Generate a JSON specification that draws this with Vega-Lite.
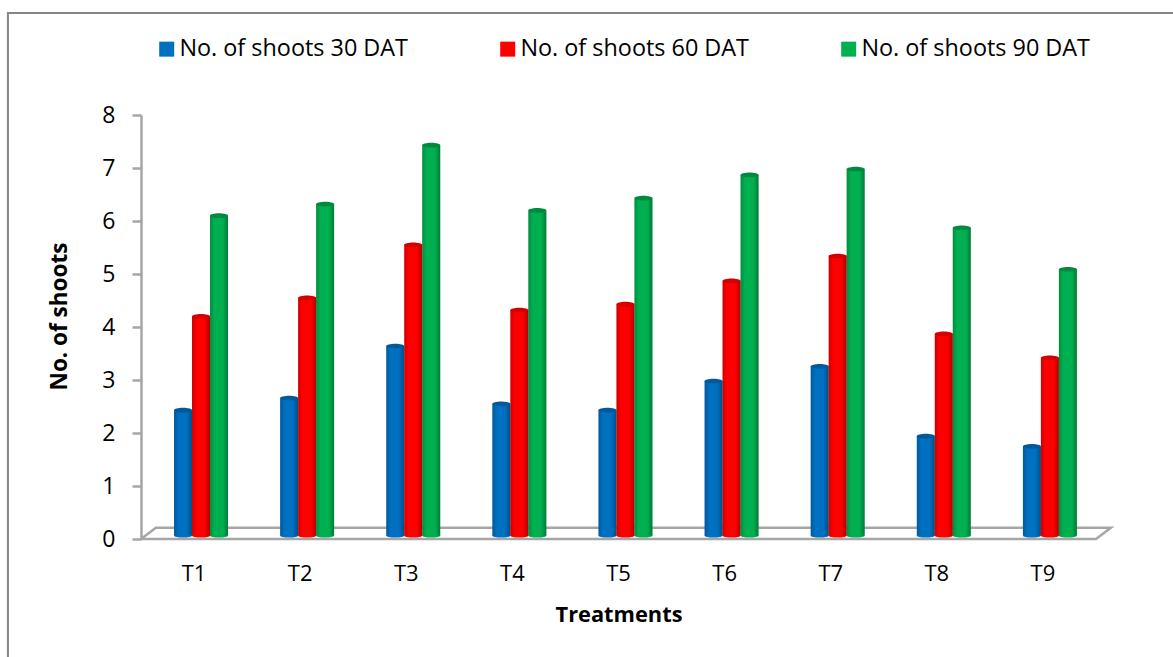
{"$schema":"https://vega.github.io/schema/vega-lite/v6.json","width":955,"height":424,"padding":{"left":141,"top":115,"right":77,"bottom":118},"autosize":"none","background":"white","config":{"view":{"stroke":null},"font":"Open Sans"},
"datasets":{"bars":[
{"t":"T1","s":"No. of shoots 30 DAT","v":2.43},{"t":"T1","s":"No. of shoots 60 DAT","v":4.2},{"t":"T1","s":"No. of shoots 90 DAT","v":6.1},
{"t":"T2","s":"No. of shoots 30 DAT","v":2.66},{"t":"T2","s":"No. of shoots 60 DAT","v":4.55},{"t":"T2","s":"No. of shoots 90 DAT","v":6.32},
{"t":"T3","s":"No. of shoots 30 DAT","v":3.64},{"t":"T3","s":"No. of shoots 60 DAT","v":5.55},{"t":"T3","s":"No. of shoots 90 DAT","v":7.43},
{"t":"T4","s":"No. of shoots 30 DAT","v":2.55},{"t":"T4","s":"No. of shoots 60 DAT","v":4.32},{"t":"T4","s":"No. of shoots 90 DAT","v":6.2},
{"t":"T5","s":"No. of shoots 30 DAT","v":2.43},{"t":"T5","s":"No. of shoots 60 DAT","v":4.43},{"t":"T5","s":"No. of shoots 90 DAT","v":6.43},
{"t":"T6","s":"No. of shoots 30 DAT","v":2.98},{"t":"T6","s":"No. of shoots 60 DAT","v":4.87},{"t":"T6","s":"No. of shoots 90 DAT","v":6.87},
{"t":"T7","s":"No. of shoots 30 DAT","v":3.26},{"t":"T7","s":"No. of shoots 60 DAT","v":5.34},{"t":"T7","s":"No. of shoots 90 DAT","v":6.98},
{"t":"T8","s":"No. of shoots 30 DAT","v":1.94},{"t":"T8","s":"No. of shoots 60 DAT","v":3.87},{"t":"T8","s":"No. of shoots 90 DAT","v":5.87},
{"t":"T9","s":"No. of shoots 30 DAT","v":1.75},{"t":"T9","s":"No. of shoots 60 DAT","v":3.42},{"t":"T9","s":"No. of shoots 90 DAT","v":5.09}],
"floor":[{"o":1,"x":0,"y":0},{"o":2,"x":0.14,"y":0.21},{"o":3,"x":9.14,"y":0.21},{"o":4,"x":9,"y":0},{"o":5,"x":0,"y":0}],
"border":[{"o":1,"x":-1.254,"y":-2.5},{"o":2,"x":-1.254,"y":9.925},{"o":3,"x":10,"y":9.925}]},
"layer":[
{"data":{"name":"border"},"mark":{"type":"line","color":"#868686","strokeWidth":2,"clip":false},
"encoding":{"x":{"field":"x","type":"quantitative","scale":{"domain":[0,9]},"axis":null},"y":{"field":"y","type":"quantitative","scale":{"domain":[0,8]},"axis":{"values":[0,1,2,3,4,5,6,7,8],"title":"No. of shoots","titleFont":"Open Sans","titleFontSize":22.5,"titleFontWeight":"bold","titleColor":"#000","titleX":-70,"titleY":201,"labelFontSize":23,"labelColor":"#000","labelPadding":17,"tickSize":9,"tickWidth":2.5,"tickColor":"#a6a6a6","domainColor":"#a6a6a6","domainWidth":2.5,"grid":false}},"order":{"field":"o"}}},
{"data":{"name":"floor"},"mark":{"type":"line","color":"#a6a6a6","strokeWidth":2.5,"clip":false},
"encoding":{"x":{"field":"x","type":"quantitative","scale":{"domain":[0,9]},"axis":null},"y":{"field":"y","type":"quantitative"},"order":{"field":"o"}}},
{"data":{"name":"bars"},"layer":[
{"mark":{"type":"bar","size":18},"encoding":{"y":{"field":"v","type":"quantitative"},"y2":{"datum":0.06},"color":{"field":"s","type":"nominal","scale":{"range":["#0070c0","#ff0000","#00b050"]},"legend":{"title":null,"orient":"none","legendX":14,"legendY":-78,"direction":"horizontal","columns":3,"symbolType":"square","symbolSize":225,"symbolStrokeWidth":0,"labelFontSize":23.4,"labelLimit":400,"labelColor":"#000","labelFont":"Open Sans","labelOffset":1,"columnPadding":88}}}},
{"mark":{"type":"point","filled":true,"opacity":1,"shape":"M-1,0A1,0.2 0 1,0 1,0A1,0.2 0 1,0 -1,0Z","size":324},"encoding":{"y":{"datum":0.06},"color":{"field":"s","type":"nominal"}}},
{"mark":{"type":"bar","size":18,"fill":{"gradient":"linear","x1":0,"x2":1,"y1":0,"y2":0,"stops":[{"offset":0,"color":"rgba(0,0,0,0.2)"},{"offset":0.25,"color":"rgba(0,0,0,0)"},{"offset":0.7,"color":"rgba(0,0,0,0)"},{"offset":1,"color":"rgba(0,0,0,0.3)"}]}},"encoding":{"y":{"field":"v","type":"quantitative"},"y2":{"datum":0.06}}},
{"mark":{"type":"point","filled":true,"opacity":1,"shape":"M-1,0A1,0.26 0 1,0 1,0A1,0.26 0 1,0 -1,0Z","size":324},"encoding":{"y":{"field":"v","type":"quantitative"},"fill":{"condition":[{"test":"datum.s=='No. of shoots 30 DAT'","value":"#005a9a"},{"test":"datum.s=='No. of shoots 60 DAT'","value":"#d40000"}],"value":"#008a40"}}}
],
"encoding":{"x":{"field":"t","type":"nominal","scale":{"paddingInner":0,"paddingOuter":0},"axis":{"title":"Treatments","titleFont":"Open Sans","titleFontSize":21.8,"titleFontWeight":"bold","titleColor":"#000","titlePadding":20,"labelAngle":0,"labelFontSize":22,"labelColor":"#000","labelPadding":24,"ticks":false,"domain":false,"grid":false}},"xOffset":{"field":"s","type":"nominal","scale":{"type":"band","domain":["_a","No. of shoots 30 DAT","No. of shoots 60 DAT","No. of shoots 90 DAT","_b"],"paddingInner":0,"paddingOuter":0.45,"align":0.93}}}}
],
"resolve":{"scale":{"x":"independent"}}}
